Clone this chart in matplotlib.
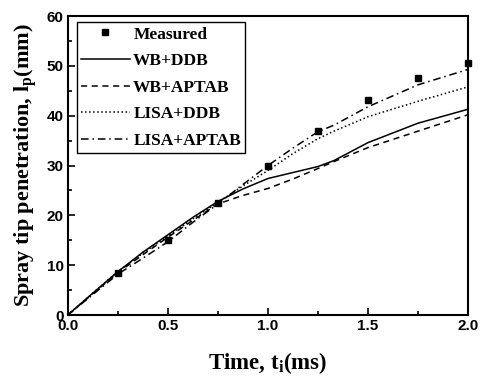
import numpy as np
import matplotlib
matplotlib.use('Agg')
import matplotlib.pyplot as plt
from matplotlib.ticker import MultipleLocator, FormatStrFormatter

# measured spray tip penetration
t_meas = [0.25, 0.5, 0.75, 1.0, 1.25, 1.5, 1.75, 2.0]
lp_meas = [8.5, 15.0, 22.5, 30.0, 37.0, 43.2, 47.6, 50.6]

# model curves
t_mod = [0.0, 0.125, 0.25, 0.375, 0.5, 0.625, 0.75, 0.875, 1.0, 1.125, 1.25, 1.33, 1.5, 1.75, 2.0]
wb_ddb = [0.0, 4.4, 8.7, 12.6, 16.1, 19.6, 22.8, 25.3, 27.4, 28.6, 29.8, 31.0, 34.6, 38.5, 41.3]
wb_aptab = [0.0, 4.3, 8.5, 12.1, 15.6, 19.0, 22.3, 24.0, 25.4, 27.3, 29.4, 30.8, 33.6, 36.9, 40.2]
lisa_ddb = [0.0, 4.4, 8.7, 12.4, 15.8, 19.3, 22.6, 25.9, 29.0, 32.4, 35.4, 36.9, 39.8, 42.9, 45.8]
lisa_aptab = [0.0, 4.1, 8.2, 11.4, 14.7, 18.6, 22.3, 26.2, 30.0, 33.5, 36.8, 38.1, 41.8, 46.2, 49.3]

plt.rcParams['xtick.direction'] = 'in'
plt.rcParams['ytick.direction'] = 'in'

fig = plt.figure(figsize=(4.81, 3.83), dpi=100)
ax = fig.add_axes([0.141, 0.1775, 0.832, 0.7805])

ax.plot(t_meas, lp_meas, 's', color='black', markersize=4.5, label='Measured', clip_on=False, zorder=5)
ax.plot(t_mod, wb_ddb, '-', color='black', lw=1.1, label='WB+DDB')
ax.plot(t_mod, wb_aptab, '--', color='black', lw=1.1, dashes=(4, 3), label='WB+APTAB')
ax.plot(t_mod, lisa_ddb, ':', color='black', lw=1.1, label='LISA+DDB')
ax.plot(t_mod, lisa_aptab, '-.', color='black', lw=1.1, dashes=(5, 2.5, 1, 2.5), label='LISA+APTAB')

ax.set_xlim(0, 2.0)
ax.set_ylim(0, 60)
ax.xaxis.set_major_locator(MultipleLocator(0.5))
ax.xaxis.set_minor_locator(MultipleLocator(0.25))
ax.xaxis.set_major_formatter(FormatStrFormatter('%.1f'))
ax.yaxis.set_major_locator(MultipleLocator(10))
ax.yaxis.set_minor_locator(MultipleLocator(5))
ax.tick_params(which='major', length=5, width=1.2, pad=3)
ax.tick_params(which='minor', length=3, width=1.2)
for s in ax.spines.values():
    s.set_linewidth(1.5)

for lab in ax.get_xticklabels() + ax.get_yticklabels():
    lab.set_family('Liberation Sans')
    lab.set_fontweight('bold')
    lab.set_fontsize(11)

ax.set_xlabel(r'Time, t$_\mathregular{i}$(ms)', family='Liberation Serif',
              fontweight='bold', fontsize=16.5, labelpad=12)
ax.set_ylabel(r'Spray tip penetration, l$_\mathregular{p}$(mm)', family='Liberation Serif',
              fontweight='bold', fontsize=16, labelpad=5)

leg = ax.legend(loc='upper left', prop={'family': 'Liberation Serif', 'weight': 'bold', 'size': 12.5},
                fancybox=False, edgecolor='black', framealpha=1, handlelength=2.8,
                borderpad=0.25, labelspacing=0.6, handletextpad=0.2,
                borderaxespad=0, bbox_to_anchor=(0.0225, 0.98))
leg.get_frame().set_linewidth(1.0)

fig.savefig('out.png', dpi=100)
